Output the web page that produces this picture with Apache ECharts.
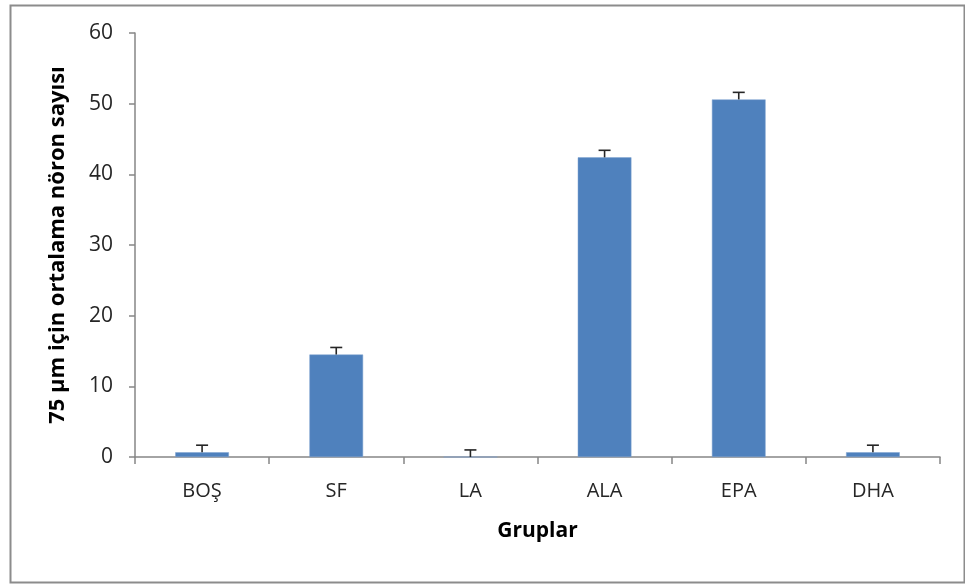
<!DOCTYPE html>
<html>
<head>
<meta charset="utf-8">
<script src="https://cdn.jsdelivr.net/npm/echarts@6/dist/echarts.min.js"></script>
<style>
  html, body { margin: 0; padding: 0; background: #fff; }
  #chart { width: 965px; height: 584px; }
</style>
</head>
<body>
<div id="chart"></div>
<script>
// Groups and mean neuron counts per 75 µm, with their upper error
const categories = ['BOŞ', 'SF', 'LA', 'ALA', 'EPA', 'DHA'];
const means = [0.67, 14.5, 0, 42.4, 50.6, 0.67];
const errors = [1.0, 1.0, 1.0, 1.0, 1.0, 1.0];
const yTicks = { min: 0, max: 60, interval: 10 };

const FONT = '"Open Sans", "Liberation Sans", sans-serif';
const AXIS_COLOR = '#868686';
const TEXT_COLOR = '#262626';

const chart = echarts.init(document.getElementById('chart'));

chart.setOption({
  animation: false,
  backgroundColor: '#ffffff',
  graphic: [{
    type: 'rect',
    left: 8, top: 3,
    shape: { width: 954, height: 577 },
    style: { fill: 'none', stroke: '#8c8c8c', lineWidth: 2 },
    silent: true
  }],
  grid: { left: 135, right: 25, top: 33, bottom: 127 },
  xAxis: {
    type: 'category',
    data: categories,
    name: 'Gruplar',
    nameLocation: 'middle',
    nameGap: 64,
    nameTextStyle: { fontFamily: FONT, fontSize: 21, fontWeight: 'bold', color: '#000' },
    axisLine: { lineStyle: { color: AXIS_COLOR, width: 1.5 } },
    axisTick: { show: true, alignWithLabel: false, length: 7, lineStyle: { color: AXIS_COLOR, width: 1.5 } },
    axisLabel: { fontFamily: FONT, fontSize: 20, color: TEXT_COLOR, margin: 24 }
  },
  yAxis: {
    type: 'value',
    min: yTicks.min, max: yTicks.max, interval: yTicks.interval,
    name: '75 µm için ortalama nöron sayısı',
    nameLocation: 'middle',
    nameGap: 66,
    nameRotate: 90,
    nameTextStyle: { fontFamily: FONT, fontSize: 22, fontWeight: 'bold', color: '#000' },
    axisLine: { show: true, lineStyle: { color: AXIS_COLOR, width: 1.5 } },
    axisTick: { show: true, length: 6, lineStyle: { color: AXIS_COLOR, width: 1.5 } },
    axisLabel: { fontFamily: FONT, fontSize: 21, color: TEXT_COLOR, margin: 22 },
    splitLine: { show: false }
  },
  series: [
    {
      type: 'bar',
      data: means,
      barWidth: '40%',
      itemStyle: { color: '#4F81BD', borderColor: '#7ea3d1', borderWidth: 0.5 }
    },
    {
      type: 'custom',
      data: categories.map((c, i) => [i, means[i], means[i] + errors[i]]),
      renderItem: function (params, api) {
        const base = api.coord([api.value(0), api.value(1)]);
        const top = api.coord([api.value(0), api.value(2)]);
        const half = 6;
        const style = { stroke: '#262626', lineWidth: 1.6 };
        return {
          type: 'group',
          children: [
            { type: 'line', shape: { x1: base[0], y1: base[1], x2: top[0], y2: top[1] }, style: style },
            { type: 'line', shape: { x1: top[0] - half, y1: top[1], x2: top[0] + half, y2: top[1] }, style: style }
          ]
        };
      },
      z: 5
    }
  ]
});
</script>
</body>
</html>
